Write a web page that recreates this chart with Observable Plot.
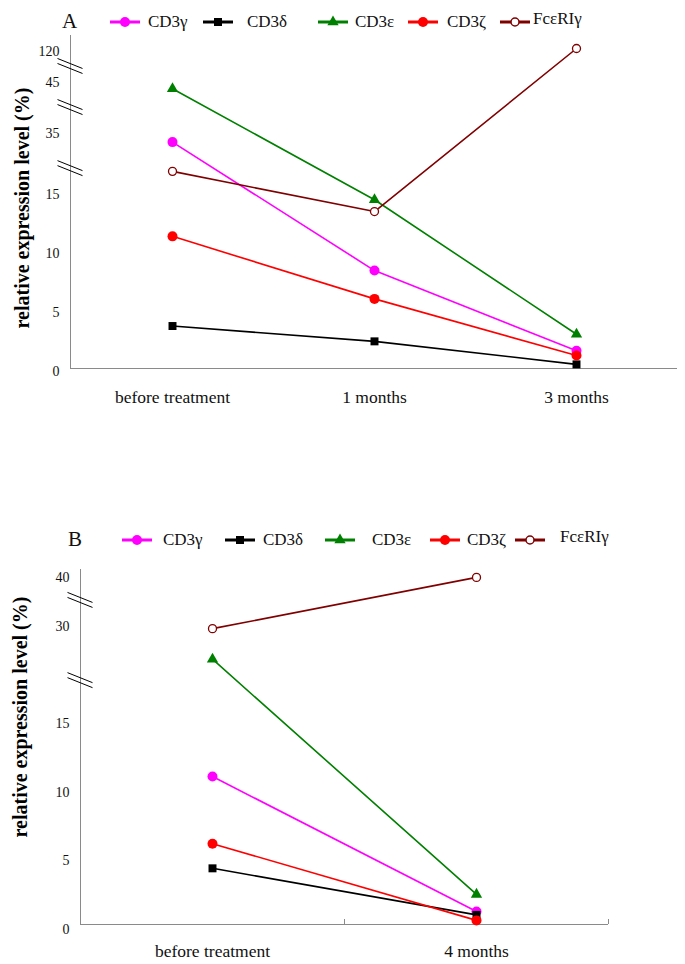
<!DOCTYPE html>
<html><head><meta charset="utf-8">
<script src="https://cdn.jsdelivr.net/npm/d3@7"></script>
<script src="https://cdn.jsdelivr.net/npm/@observablehq/plot@0.6"></script>
<style>
body{margin:0;background:#fff;}
#root{position:relative;width:685px;height:964px;font-family:"Liberation Serif","Times New Roman",serif;color:#111;overflow:hidden;}
.abs{position:absolute;white-space:nowrap;line-height:1;}
</style></head><body><div id="root"></div>
<script>
// ---------- data ----------
const series = ["CD3γ", "CD3δ", "CD3ε", "CD3ζ", "FcεRIγ"];
const timesA = ["before treatment", "1 months", "3 months"];
const timesB = ["before treatment", "4 months"];
// values per series (same order as `series`)
const valuesA = [
  [31.2, 8.3, 1.5],
  [3.6, 2.3, 0.35],
  [43.2, 14.3, 2.9],
  [11.2, 5.9, 1.1],
  [21.6, 13.3, 120]
];
const valuesB = [
  [10.8, 0.95],
  [4.1, 0.7],
  [24.2, 2.2],
  [5.9, 0.3],
  [28.9, 39]
];
const ticksA = [0, 5, 10, 15, 35, 45, 120];
const ticksB = [0, 5, 10, 15, 30, 40];
const breaksA = [22.5, 39.5, 76.5];
const breaksB = [20.9, 34.3];
const yTitle = "relative expression level (%)";

// ---------- styles ----------
const colors = ["#ff00ff", "#000000", "#008000", "#ff0000", "#800000"];
const symbols = ["circle", "square", "triangle", "circle", "circle"];
const radii = [5, 4.5, 4.2, 5, 4];
const fills = ["#ff00ff", "#000000", "#008000", "#ff0000", "#ffffff"];
const axisGray = "#8a8a8a";
const font = "Liberation Serif, Times New Roman, serif";

const breakSymbol = {
  draw(ctx) {
    ctx.moveTo(-13, -8); ctx.lineTo(12, 2);
    ctx.moveTo(-13, -3); ctx.lineTo(12, 7);
  }
};

function rowsFor(times, values) {
  const rows = [];
  series.forEach((s, i) => times.forEach((t, j) => rows.push({series: s, time: t, value: values[i][j], idx: i})));
  return rows;
}

function panel(cfg) {
  const rows = rowsFor(cfg.times, cfg.values);
  const marks = [
    Plot.ruleY([0], {stroke: axisGray, strokeWidth: 1}),
    Plot.frame({anchor: "left", stroke: axisGray, strokeWidth: 1}),
    Plot.axisY({ticks: cfg.ticks, tickSize: 0, tickPadding: 11, fontSize: 14, label: null, dy: cfg.tickDy}),
    Plot.axisX({tickSize: 0, tickPadding: cfg.xPad, fontSize: 17.5, label: null}),
    Plot.text([yTitle], {frameAnchor: "left", textAnchor: "middle", dx: cfg.titleDx, dy: cfg.titleDy, rotate: -90, fontWeight: "bold", fontSize: 20, fill: "#000"}),
    Plot.dot(cfg.breaks, {y: d => d, frameAnchor: "left", symbol: breakSymbol, stroke: "#000", fill: "none", strokeWidth: 1})
  ];
  if (cfg.boundaryTicks) {
    marks.push(Plot.tickX(cfg.times, {x: d => d, dx: cfg.boundaryTicks, insetTop: cfg.height - cfg.mt - cfg.mb - 5, stroke: axisGray}));
  }
  series.forEach((s, i) => {
    const d = rows.filter(r => r.series === s);
    marks.push(Plot.line(d, {x: "time", y: "value", stroke: colors[i], strokeWidth: 1.6}));
    marks.push(Plot.dot(d, {x: "time", y: "value", symbol: symbols[i], r: radii[i], fill: fills[i], stroke: i === 4 ? colors[i] : "none", strokeWidth: 1.3}));
  });
  return Plot.plot({
    width: 685, height: cfg.height,
    marginTop: cfg.mt, marginBottom: cfg.mb, marginLeft: cfg.ml, marginRight: cfg.mr,
    style: {fontFamily: font, background: "transparent", overflow: "visible"},
    x: {type: "point", domain: cfg.times, padding: 0.5},
    y: {type: "linear", domain: cfg.yDomain, range: cfg.yRange},
    marks
  });
}

const root = document.getElementById("root");

function place(el, top) {
  el.style.position = "absolute"; el.style.left = "0px"; el.style.top = top + "px";
  root.appendChild(el);
}

function legend(letter, letterX, y, swatchX, textX) {
  const L = document.createElement("div");
  L.className = "abs"; L.textContent = letter;
  L.style.left = letterX + "px"; L.style.top = (y - 11) + "px"; L.style.fontSize = "21px";
  root.appendChild(L);
  series.forEach((s, i) => {
    const svg = d3.create("svg").attr("width", 32).attr("height", 16)
      .style("position", "absolute").style("left", swatchX[i] + "px").style("top", (y - 8) + "px");
    svg.append("line").attr("x1", 0).attr("x2", 30).attr("y1", 8).attr("y2", 8)
      .attr("stroke", colors[i]).attr("stroke-width", 3);
    const sym = {circle: d3.symbolCircle, square: d3.symbolSquare, triangle: d3.symbolTriangle}[symbols[i]];
    svg.append("path").attr("transform", "translate(15,8)")
      .attr("d", d3.symbol(sym, Math.PI * radii[i] * radii[i])())
      .attr("fill", fills[i]).attr("stroke", i === 4 ? colors[i] : "none").attr("stroke-width", 1.5);
    root.appendChild(svg.node());
    const t = document.createElement("div");
    t.className = "abs"; t.textContent = s;
    t.style.left = textX[i] + "px"; t.style.top = (y - 9 - (i === 4 ? 3 : 0)) + "px"; t.style.fontSize = "17px";
    root.appendChild(t);
  });
}

legend("A", 62, 22, [110, 203, 318, 408, 500], [148, 247, 355, 447, 533]);
legend("B", 68, 540, [122, 225, 325, 430, 515], [163, 263, 372, 467, 560]);

place(panel({
  times: timesA, values: valuesA, ticks: ticksA, breaks: breaksA,
  height: 400, mt: 3, mb: 64, ml: 70, mr: 8,
  yDomain: [0, 15, 35, 45, 120], yRange: [336, 159, 98, 47, 16],
  tickDy: 3, xPad: 22, titleDx: -48, titleDy: 6
}), 32);

place(panel({
  times: timesB, values: valuesB, ticks: ticksB, breaks: breaksB,
  height: 404, mt: 9, mb: 40, ml: 80, mr: 77,
  yDomain: [0, 15, 30, 40], yRange: [364, 158.5, 61, 12],
  tickDy: 5, xPad: 20, titleDx: -60, titleDy: -30, boundaryTicks: 132
}), 560);
</script></body></html>
